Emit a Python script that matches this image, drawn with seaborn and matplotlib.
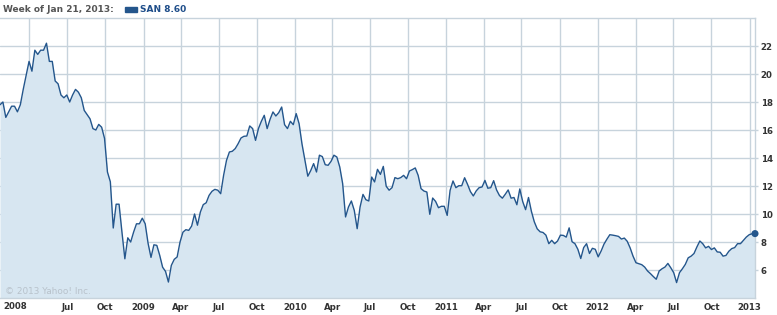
import numpy as np
import pandas as pd
import matplotlib
matplotlib.use("Agg")
import matplotlib.pyplot as plt
import matplotlib.dates as mdates
import seaborn as sns

# ---- data (weekly closes of SAN) ----
start_week = "2008-01-21"
price = [
    17.8, 18.0, 16.9, 17.3, 17.7, 17.7, 17.3, 17.8, 18.9, 19.9,
    20.9, 20.2, 21.7, 21.4, 21.7, 21.7, 22.2, 20.9, 20.9, 19.5,
    19.3, 18.5, 18.3, 18.5, 18.0, 18.5, 18.9, 18.7, 18.3, 17.4,
    17.1, 16.8, 16.1, 16.0, 16.4, 16.2, 15.4, 13.0, 12.3, 9.0,
    10.7, 10.7, 8.7, 6.8, 8.3, 8.0, 8.7, 9.3, 9.3, 9.7,
    9.3, 7.9, 6.9, 7.8, 7.76, 7.05, 6.2, 5.9, 5.14, 6.33,
    6.76, 6.93, 8.0, 8.7, 8.88, 8.83, 9.14, 10.0, 9.2, 10.14,
    10.67, 10.8, 11.33, 11.62, 11.76, 11.7, 11.45, 12.76, 13.83, 14.43,
    14.48, 14.67, 15.02, 15.43, 15.55, 15.57, 16.29, 16.1, 15.26, 16.1,
    16.62, 17.05, 16.1, 16.76, 17.29, 17.0, 17.24, 17.64, 16.38, 16.1,
    16.62, 16.38, 17.17, 16.45, 15.0, 13.83, 12.7, 13.1, 13.6, 13.0,
    14.2, 14.1, 13.52, 13.48, 13.76, 14.2, 14.07, 13.36, 12.17, 9.79,
    10.5, 10.93, 10.26, 8.95, 10.5, 11.4, 11.02, 10.93, 12.64, 12.29,
    13.19, 12.83, 13.4, 11.98, 11.7, 11.88, 12.6, 12.52, 12.6, 12.76,
    12.52, 13.07, 13.17, 13.29, 12.76, 11.81, 11.64, 11.57, 9.98, 11.14,
    10.9, 10.45, 10.55, 10.55, 9.9, 11.69, 12.36, 11.88, 12.02, 12.02,
    12.59, 12.12, 11.6, 11.29, 11.65, 11.88, 11.93, 12.4, 11.84, 11.88,
    12.38, 11.72, 11.32, 11.13, 11.41, 11.72, 11.13, 11.18, 10.66, 11.79,
    10.89, 10.31, 11.18, 10.19, 9.44, 8.94, 8.73, 8.68, 8.49, 7.88,
    8.12, 7.88, 8.07, 8.49, 8.47, 8.35, 9.01, 8.02, 7.88, 7.48,
    6.82, 7.6, 7.88, 7.18, 7.55, 7.48, 6.94, 7.35, 7.85, 8.2,
    8.52, 8.49, 8.45, 8.4, 8.21, 8.28, 8.05, 7.58, 6.99, 6.52,
    6.45, 6.38, 6.21, 5.93, 5.74, 5.53, 5.34, 5.93, 6.09, 6.21,
    6.47, 6.16, 5.81, 5.1, 5.81, 6.09, 6.4, 6.87, 6.99, 7.18,
    7.65, 8.07, 7.88, 7.58, 7.69, 7.46, 7.58, 7.29, 7.27, 6.99,
    7.04, 7.34, 7.53, 7.6, 7.88, 7.88, 8.12, 8.35, 8.52, 8.59,
    8.60,
]
tick_dates = ["2008-04-01", "2008-07-01", "2008-10-01", "2009-01-01", "2009-04-01",
              "2009-07-01", "2009-10-01", "2010-01-01", "2010-04-01", "2010-07-01",
              "2010-10-01", "2011-01-01", "2011-04-01", "2011-07-01", "2011-10-01",
              "2012-01-01", "2012-04-01", "2012-07-01", "2012-10-01", "2013-01-01"]
tick_labels = ["", "Jul", "Oct", "2009", "Apr", "Jul", "Oct", "2010", "Apr", "Jul",
               "Oct", "2011", "Apr", "Jul", "Oct", "2012", "Apr", "Jul", "Oct", "2013"]
first_year_label = "2008"
y_ticks = [6, 8, 10, 12, 14, 16, 18, 20, 22]
header_left = "Week of Jan 21, 2013:"
header_series = "SAN 8.60"
copyright_text = "\u00a9 2013 Yahoo! Inc."

weeks = pd.date_range(start_week, periods=len(price), freq="7D")
df = pd.DataFrame({"week": weeks, "price": price})

# ---- style ----
sns.set_style("white")
plt.rcParams["font.family"] = ["DejaVu Sans"]

line_c = "#24568c"
fill_c = "#d7e6f1"
grid_c = "#c7d3dc"
text_c = "#333333"

fig = plt.figure(figsize=(7.77, 3.15), dpi=100)
ax = fig.add_axes([0.0, 17 / 315, 755 / 777, (298 - 18) / 315])

ax.fill_between(df["week"], df["price"], 0, color=fill_c, linewidth=0, zorder=1)
sns.lineplot(data=df, x="week", y="price", ax=ax, color=line_c, linewidth=1.0, zorder=3)
sns.scatterplot(x=df["week"].iloc[-1:], y=df["price"].iloc[-1:], ax=ax, color=line_c,
                s=26, edgecolor="none", zorder=4, clip_on=False)

ax.set_xlim(df["week"].iloc[0], df["week"].iloc[-1])
ax.set_ylim(4, 24)

ax.set_xticks(pd.to_datetime(tick_dates))
ax.set_xticklabels(tick_labels)
ax.set_yticks(y_ticks)
ax.yaxis.tick_right()
ax.grid(True, color=grid_c, linewidth=1.0, zorder=0)
ax.set_axisbelow(True)
ax.tick_params(axis="x", length=0, pad=3.5, labelsize=6.2, labelcolor=text_c)
ax.tick_params(axis="y", length=2, width=1, color=grid_c, pad=2, labelsize=6.2, labelcolor=text_c)
for lab in ax.get_xticklabels() + ax.get_yticklabels():
    lab.set_fontweight("bold")
ax.set_xlabel("")
ax.set_ylabel("")

for side in ["top", "bottom", "right"]:
    ax.spines[side].set_color(grid_c)
    ax.spines[side].set_linewidth(1.0)
ax.spines["left"].set_visible(False)

ax.text(3 / 755, -8.5 / 280, first_year_label, transform=ax.transAxes, ha="left", va="center",
        fontsize=6.2, fontweight="bold", color=text_c)
ax.text(5 / 755, 7 / 280, copyright_text, transform=ax.transAxes, ha="left", va="center",
        fontsize=6.4, color="#b8c2cb", zorder=2)

# header
fig.text(3 / 777, 1 - 9 / 315, header_left, ha="left", va="center", fontsize=6.5,
         fontweight="bold", color="#555555")
fig.patches.append(plt.Rectangle((125 / 777, 1 - 12 / 315), 12 / 777, 5 / 315,
                                 transform=fig.transFigure, color=line_c))
fig.text(140 / 777, 1 - 9 / 315, header_series, ha="left", va="center", fontsize=6.5,
         fontweight="bold", color="#1f4e8a")

fig.savefig("out.png", dpi=100)
